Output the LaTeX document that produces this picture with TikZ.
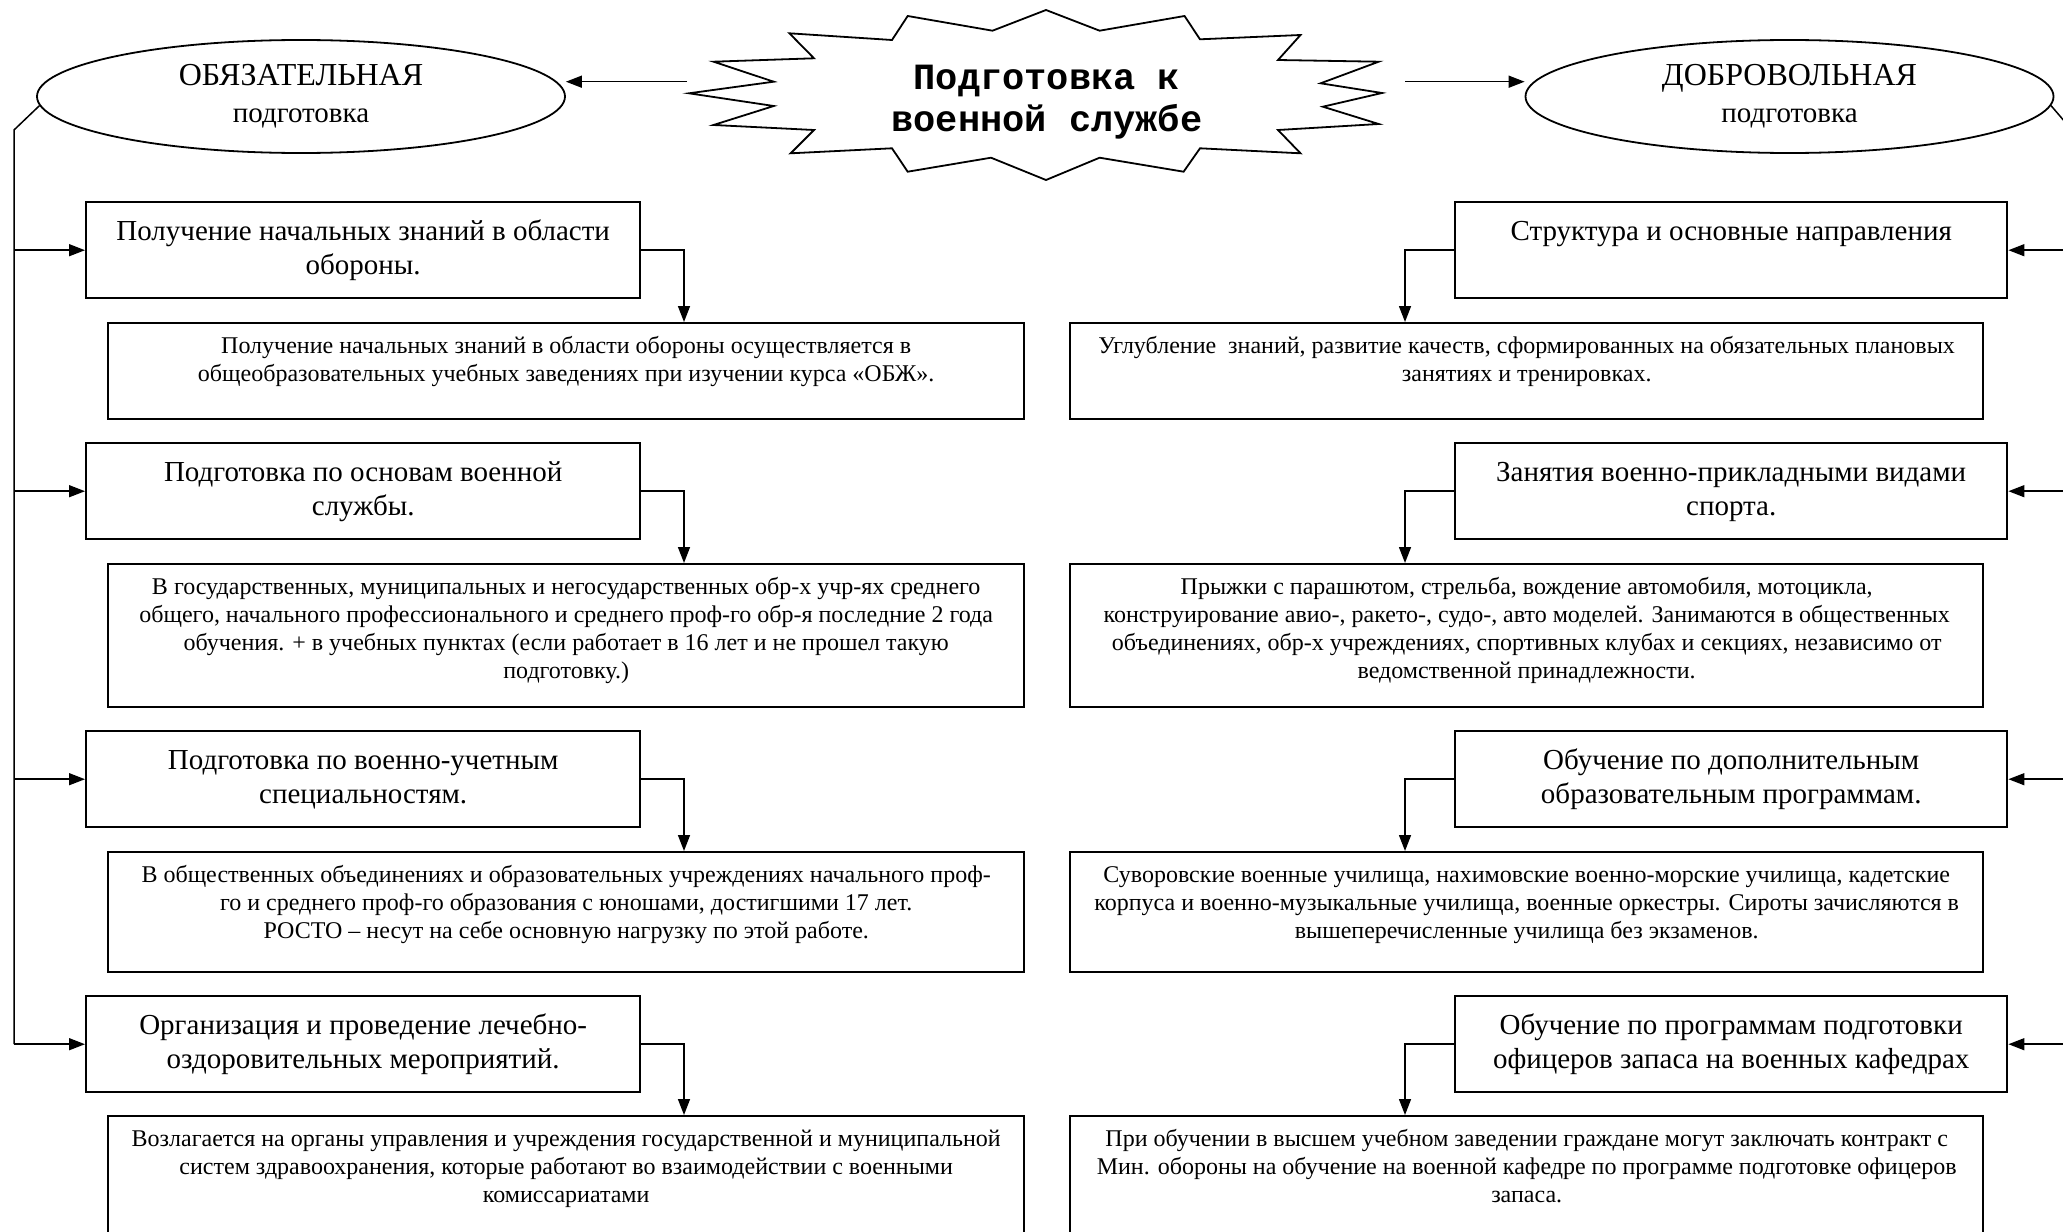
\documentclass[tikz,border=0pt]{standalone}
\usepackage{fontspec}
\setmainfont{Liberation Serif}
\newfontfamily\cour{Liberation Mono}
\usetikzlibrary{arrows.meta,shapes.geometric}
\newcommand\bxt[4]{\parbox[c][#2][t]{#1}{\centering\rule{0pt}{#3}#4\par}}
\tikzset{
  hbox/.style={draw, line width=2.4pt, inner sep=0pt, anchor=north west, font=\fontsize{29}{34}\selectfont},
  dbox/.style={draw, line width=2.4pt, inner sep=0pt, anchor=north west, font=\fontsize{24}{28}\selectfont},
  conn/.style={line width=1.5pt},
  arr/.style={conn, -{Triangle[length=16pt,width=12pt]}},
  oval/.style={draw, ellipse, line width=1.8pt, minimum width=528pt, minimum height=113pt, inner sep=0pt, align=center, font=\fontsize{29}{37}\selectfont},
  burst/.style={draw, line width=1.8pt, fill=white, line join=miter},
  title/.style={align=center, font=\cour\bfseries\fontsize{37}{42}\selectfont}
}
\begin{document}
\begin{tikzpicture}[x=1pt,y=-1pt]
\useasboundingbox (0,0) rectangle (2063,1231);
\clip (0,0) rectangle (2063,1231);
% star
\draw[burst] (1046,10) -- (1099.6,30.7) -- (1184.5,16) -- (1200,39.3) -- (1300.5,35) -- (1278,60) -- (1378.7,61.7) -- (1320.6,83.3) -- (1382,93) -- (1322.9,106.7) -- (1378.7,124) -- (1278,130) -- (1300.5,153.3) -- (1200,148.3) -- (1183.6,171.7) -- (1099.6,157.7) -- (1046,180) -- (991,157.7) -- (907.7,171.7) -- (892,148.3) -- (790.7,153.3) -- (814,130) -- (713.5,125) -- (773.75,106) -- (689,93.3) -- (773.75,81.7) -- (713.5,61.7) -- (814,58.3) -- (789.4,33.3) -- (892,40) -- (907.7,16) -- (992.5,30.7) -- cycle;
\node[title] (star) at (1047,102) {Подготовка к\\военной службе};
% ellipses
\node[oval] (obl) at (301,96.5) {{\fontsize{32}{37}\selectfont ОБЯЗАТЕЛЬНАЯ}\\подготовка};
\node[oval] (obr) at (1789.5,96.5) {{\fontsize{32}{37}\selectfont ДОБРОВОЛЬНАЯ}\\подготовка};
\coordinate (sl) at (687,81.7);
\coordinate (sr) at (1405,81.7);
\draw[arr] (sl) -- (obl.east |- sl);
\draw[arr] (sr) -- (obr.west |- sr);
% left column
\node[hbox] (lh1) at (85,201) {\bxt{554pt}{96pt}{38pt}{Получение начальных знаний в области\\обороны.}};
\node[dbox] (ld1) at (107,322) {\bxt{916pt}{96pt}{30pt}{Получение начальных знаний в области обороны осуществляется в\\общеобразовательных учебных заведениях при изучении курса «ОБЖ».}};
\node[hbox] (lh2) at (85,442) {\bxt{554pt}{96pt}{38pt}{Подготовка по основам военной\\службы.}};
\node[dbox] (ld2) at (107,563) {\bxt{916pt}{143pt}{30pt}{В государственных, муниципальных и негосударственных обр-х учр-ях среднего\\общего, начального профессионального и среднего проф-го обр-я последние 2 года\\обучения. + в учебных пунктах (если работает в 16 лет и не прошел такую\\подготовку.)}};
\node[hbox] (lh3) at (85,730) {\bxt{554pt}{96pt}{38pt}{Подготовка по военно-учетным\\специальностям.}};
\node[dbox] (ld3) at (107,851) {\bxt{916pt}{120pt}{30pt}{В общественных объединениях и образовательных учреждениях начального проф-\\го и среднего проф-го образования с юношами, достигшими 17 лет.\\РОСТО – несут на себе основную нагрузку по этой работе.}};
\node[hbox] (lh4) at (85,995) {\bxt{554pt}{96pt}{38pt}{Организация и проведение лечебно-\\оздоровительных мероприятий.}};
\node[dbox] (ld4) at (107,1115) {\bxt{916pt}{160pt}{30pt}{Возлагается на органы управления и учреждения государственной и муниципальной\\систем здравоохранения, которые работают во взаимодействии с военными\\комиссариатами}};
% right column
\node[hbox] (rh1) at (1454,201) {\bxt{552pt}{96pt}{38pt}{Структура и основные направления}};
\node[dbox] (rd1) at (1069,322) {\bxt{913pt}{96pt}{30pt}{Углубление~ знаний, развитие качеств, сформированных на обязательных плановых\\занятиях и тренировках.}};
\node[hbox] (rh2) at (1454,442) {\bxt{552pt}{96pt}{38pt}{Занятия военно-прикладными видами\\спорта.}};
\node[dbox] (rd2) at (1069,563) {\bxt{913pt}{143pt}{30pt}{Прыжки с парашютом, стрельба, вождение автомобиля, мотоцикла,\\конструирование авио-, ракето-, судо-, авто моделей. Занимаются в общественных\\объединениях, обр-х учреждениях, спортивных клубах и секциях, независимо от\\ведомственной принадлежности.}};
\node[hbox] (rh3) at (1454,730) {\bxt{552pt}{96pt}{38pt}{Обучение по дополнительным\\образовательным программам.}};
\node[dbox] (rd3) at (1069,851) {\bxt{913pt}{120pt}{30pt}{Суворовские военные училища, нахимовские военно-морские училища, кадетские\\корпуса и военно-музыкальные училища, военные оркестры. Сироты зачисляются в\\вышеперечисленные училища без экзаменов.}};
\node[hbox] (rh4) at (1454,995) {\bxt{552pt}{96pt}{38pt}{Обучение по программам подготовки\\офицеров запаса на военных кафедрах}};
\node[dbox] (rd4) at (1069,1115) {\bxt{913pt}{160pt}{30pt}{При обучении в высшем учебном заведении граждане могут заключать контракт с\\Мин. обороны на обучение на военной кафедре по программе подготовке офицеров\\запаса.}};
% trunks
\coordinate (lv) at (14,130);
\coordinate (rv) at (2077,136);
\coordinate (lx) at (684,0);
\coordinate (rx) at (1405,0);
\draw[conn] (obl.182.3) -- (lv) -- (lv |- lh4.west);
\draw[conn] (obr.-2.3) -- (rv) -- (rv |- rh4.east);
\foreach \n in {1,2,3,4}{
  \draw[arr] (lv |- lh\n.west) -- (lh\n.west);
  \draw[arr] (rv |- rh\n.east) -- (rh\n.east);
  \draw[arr] (lh\n.east) -| (lx |- ld\n.north);
  \draw[arr] (rh\n.west) -| (rx |- rd\n.north);
}
\end{tikzpicture}
\end{document}
